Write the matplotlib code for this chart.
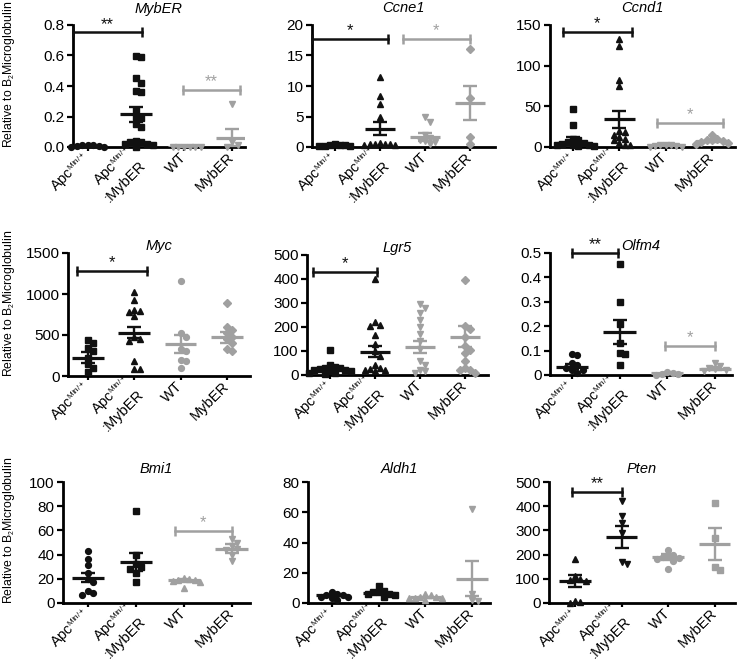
"""
Nine-panel dot plot: gene expression relative to B2 microglobulin,
mean +/- SEM per genotype, with significance brackets.
"""

import matplotlib
matplotlib.use("Agg")
import matplotlib.pyplot as plt
import matplotlib._mathtext as mathtext_internals

plt.rcParams['font.family'] = ['Liberation Sans', 'DejaVu Sans']
plt.rcParams['mathtext.fontset'] = 'custom'
plt.rcParams['mathtext.rm'] = 'Liberation Sans'
plt.rcParams['mathtext.it'] = 'Liberation Sans:italic'
# the original uses very small superscripts ("Min/+")
mathtext_internals.SHRINK_FACTOR = 0.55

# =========================
# DATA
# =========================

group_labels = [r'Apc$^{\mathrm{Min/+}}$', 'Apc$^{\\mathrm{Min/+}}$\n:MybER', 'WT', 'MybER']
genes = ['MybER', 'Ccne1', 'Ccnd1', 'Myc', 'Lgr5', 'Olfm4', 'Bmi1', 'Aldh1', 'Pten']

mybER_pts = [
    [0.01, 0.005, 0.0, 0.01, 0.005, 0.0, 0.01],
    [0.60, 0.59, 0.45, 0.42, 0.37, 0.36, 0.24, 0.20, 0.19, 0.15, 0.13,
     0.04, 0.03, 0.03, 0.02, 0.02, 0.01, 0.0],
    [0.0, 0.0, 0.0, 0.0, 0.0, 0.0],
    [0.28, 0.03, 0.01, 0.0],
]
mybER_mean = [0.005, 0.215, 0.0, 0.06]
mybER_sem = [0.002, 0.05, 0.0, 0.055]

ccne1_pts = [
    [0.5, 0.4, 0.3, 0.3, 0.2, 0.2, 0.1],
    [11.5, 8.3, 7.0, 5.0, 0.6, 0.5, 0.5, 0.5, 0.5, 0.4, 0.3],
    [4.9, 4.1, 2.0, 1.5, 1.2, 1.0, 0.8, 0.5],
    [16.0, 8.1, 1.7, 0.5],
]
ccne1_mean = [0.3, 3.0, 1.65, 7.2]
ccne1_sem = [0.05, 1.1, 0.6, 2.8]

ccnd1_pts = [
    [47, 27, 10, 8, 6, 5, 4, 3, 2, 2, 1, 1],
    [133, 124, 82, 75, 20, 18, 15, 12, 10, 8, 5, 3, 2],
    [3, 2, 2, 1, 1, 0.5, 0],
    [15, 10, 9, 8, 7, 6, 5, 4],
]
ccnd1_mean = [5, 34, 1.5, 7.5]
ccnd1_sem = [7, 10.5, 0.6, 1.2]

myc_pts = [
    [440, 400, 345, 300, 220, 150, 100, 45],
    [1030, 930, 800, 790, 780, 730, 470, 450, 430, 180, 80, 80],
    [1160, 520, 470, 330, 300, 200, 180, 100],
    [890, 600, 560, 520, 480, 450, 400, 330, 300],
]
myc_mean = [225, 530, 390, 470]
myc_sem = [62, 72, 110, 70]

lgr5_pts = [
    [105, 40, 35, 30, 30, 25, 20, 20, 15, 15, 10, 10, 5],
    [400, 220, 210, 205, 165, 130, 100, 80, 40, 30, 25, 20, 20, 15],
    [295, 280, 260, 230, 200, 170, 140, 110, 60, 40, 20, 15, 10],
    [395, 205, 190, 160, 120, 105, 90, 60, 30, 20, 20, 10],
]
lgr5_mean = [25, 97, 117, 160]
lgr5_sem = [7, 22, 26, 43]

olfm4_pts = [
    [0.085, 0.083, 0.05, 0.04, 0.03, 0.02, 0.02, 0.01],
    [0.455, 0.30, 0.21, 0.13, 0.09, 0.088, 0.04],
    [0.012, 0.008, 0.005, 0.003, 0.0],
    [0.05, 0.035, 0.03, 0.025, 0.02, 0.015],
]
olfm4_mean = [0.034, 0.176, 0.007, 0.026]
olfm4_sem = [0.01, 0.05, 0.003, 0.006]

bmi1_pts = [
    [43, 36, 31, 25, 20, 17, 10, 8, 7],
    [76, 40, 32, 30, 28, 25, 17],
    [21, 20, 19, 19, 18, 17, 12],
    [53, 50, 47, 45, 44, 40, 35],
]
bmi1_mean = [21, 34, 18.6, 45]
bmi1_sem = [4, 7.5, 1.5, 3.5]

aldh1_pts = [
    [7, 6, 5, 5, 4, 4, 3, 2],
    [11, 8, 7, 7, 6, 6, 5, 4],
    [6, 5, 4, 4, 3, 3, 3, 2],
    [62, 6, 2, 1],
]
aldh1_mean = [5, 6.6, 3.8, 16]
aldh1_sem = [0.5, 0.7, 0.4, 11.5]

pten_pts = [
    [180, 110, 100, 95, 90, 10, 5, 0],
    [420, 360, 330, 290, 170, 160],
    [220, 200, 195, 190, 185, 180, 175, 140],
    [415, 270, 150, 135],
]
pten_mean = [92, 272, 189, 243]
pten_sem = [24, 46, 12, 65]

all_pts = [mybER_pts, ccne1_pts, ccnd1_pts, myc_pts, lgr5_pts,
           olfm4_pts, bmi1_pts, aldh1_pts, pten_pts]
all_mean = [mybER_mean, ccne1_mean, ccnd1_mean, myc_mean, lgr5_mean,
            olfm4_mean, bmi1_mean, aldh1_mean, pten_mean]
all_sem = [mybER_sem, ccne1_sem, ccnd1_sem, myc_sem, lgr5_sem,
           olfm4_sem, bmi1_sem, aldh1_sem, pten_sem]

y_max = [0.8, 20, 150, 1500, 500, 0.5, 100, 80, 500]
y_step = [0.2, 5, 50, 500, 100, 0.1, 20, 20, 100]

# significance brackets: (x0, x1, y, stars, is_gray)
sig_marks = [
    [(-0.31, 1.12, 0.752, '**', False), (1.98, 3.17, 0.373, '**', True)],
    [(-0.51, 1.18, 17.7, '*', False), (1.51, 3.0, 17.7, '*', True)],
    [(-0.22, 1.27, 142, '*', False), (1.81, 3.24, 30, '*', True)],
    [(-0.24, 1.27, 1280, '*', False)],
    [(-0.38, 1.04, 428, '*', False)],
    [(0.0, 0.96, 0.5, '**', False), (1.95, 3.0, 0.119, '*', True)],
    [(1.81, 3.0, 59.7, '*', True)],
    [],
    [(-0.06, 1.02, 459, '**', False)],
]

# =========================
# STYLE / LAYOUT
# =========================

W, H = 738, 661
BLACK = '#111111'
GRAY = '#a0a0a0'
group_colors = [BLACK, BLACK, GRAY, GRAY]

markers = [
    ['o', 's', 'v', 'v'],
    ['s', '^', 'v', 'D'],
    ['s', '^', 'v', 'D'],
    ['s', '^', 'o', 'D'],
    ['s', '^', 'v', 'D'],
    ['o', 's', 'o', 'v'],
    ['o', 's', '^', 'v'],
    ['o', 's', '^', 'v'],
    ['^', 'v', 'o', 's'],
]

# axes box in pixels: left, right, top (y max), bottom (zero line)
boxes = [
    (73, 245, 25, 147), (312, 495, 25, 147), (550, 735, 25, 147),
    (68, 250, 253, 376), (307, 488, 255, 375), (550, 732, 253, 375),
    (63, 250, 482, 603), (308, 490, 482, 603), (549, 735, 482, 603),
]
x_lims = [(-0.31, 3.27), (-0.51, 3.56), (-0.5, 3.5),
          (-0.43, 3.5), (-0.51, 3.51), (-0.46, 3.36),
          (-0.52, 3.38), (-0.51, 3.38), (-0.56, 3.44)]
title_pad = [9, 9, 9, 0.5, 0.5, 0.5, 6.5, 6.5, 6.5]


def swarm_offsets(vals, ymax, h_px, step=0.115, min_px=5.5):
    """GraphPad-like horizontal spreading of overlapping points."""
    placed = []
    offs = []
    for v in vals:
        ypx = v / ymax * h_px
        k = 0
        while True:
            off = ((k + 1) // 2) * step * (1 if k % 2 else -1)
            clash = any(abs(xo - off) < step * 0.95 and abs(yo - ypx) < min_px
                        for xo, yo in placed)
            if not clash:
                break
            k += 1
        placed.append((off, ypx))
        offs.append(off)
    return offs


fig = plt.figure(figsize=(W / 100, H / 100), dpi=100)

for n, gene in enumerate(genes):
    left, right, top, bottom = boxes[n]
    ax = fig.add_axes([left / W, 1 - bottom / H, (right - left) / W, (bottom - top) / H])
    h_px = bottom - top
    ymax = y_max[n]

    for i in range(4):
        vals = sorted(all_pts[n][i], reverse=True)
        offs = swarm_offsets(vals, ymax, h_px)
        ms = 4.2 if markers[n][i] != 'D' else 3.6
        ax.plot([i + o for o in offs], vals, linestyle='none', marker=markers[n][i],
                ms=ms, color=group_colors[i], mec=group_colors[i], clip_on=False, zorder=3)

        m, s = all_mean[n][i], all_sem[n][i]
        ax.hlines(m, i - 0.34, i + 0.34, color=group_colors[i], lw=2.3, zorder=4)
        ax.errorbar(i, m, yerr=s, fmt='none', ecolor=group_colors[i],
                    elinewidth=1.7, capsize=5, capthick=1.7, zorder=4)

    for x0, x1, y, stars, is_gray in sig_marks[n]:
        c = GRAY if is_gray else BLACK
        ax.plot([x0, x1], [y, y], color=c, lw=1.8, marker='|', ms=7, mew=1.8,
                clip_on=False, zorder=5)
        ax.annotate(stars, ((x0 + x1) / 2, y), xytext=(0, 0.5), textcoords='offset points',
                    ha='center', va='bottom', fontsize=12, color=c, annotation_clip=False)

    ax.set_xlim(*x_lims[n])
    ax.set_ylim(0, ymax)
    ticks = [k * y_step[n] for k in range(int(round(ymax / y_step[n])) + 1)]
    ax.set_yticks(ticks)
    if gene == 'MybER':
        ax.set_yticklabels([f'{t:.1f}' for t in ticks])
    elif gene == 'Olfm4':
        ax.set_yticklabels(['0'] + [f'{t:.1f}' for t in ticks[1:]])
    else:
        ax.set_yticklabels([f'{t:g}' for t in ticks])

    ax.set_xticks(range(4))
    ax.set_xticklabels(group_labels, rotation=45, ha='right', va='center',
                       rotation_mode='anchor', fontsize=10.5)
    ax.tick_params(axis='y', labelsize=11, width=1.6, length=4, pad=2)
    ax.tick_params(axis='x', width=1.6, length=3, pad=3)

    for side in ('top', 'right'):
        ax.spines[side].set_visible(False)
    for side in ('left', 'bottom'):
        ax.spines[side].set_linewidth(2.0)
    ax.patch.set_visible(False)

    ax.set_title(gene, fontstyle='italic', fontsize=10.5, pad=title_pad[n])

    if n % 3 == 0:
        fig.text(9 / W, 1 - (bottom + 1) / H, 'Relative to B$_2$Microglobulin',
                 rotation=90, ha='center', va='bottom', fontsize=8.8)

fig.savefig('out.png', dpi=100)
